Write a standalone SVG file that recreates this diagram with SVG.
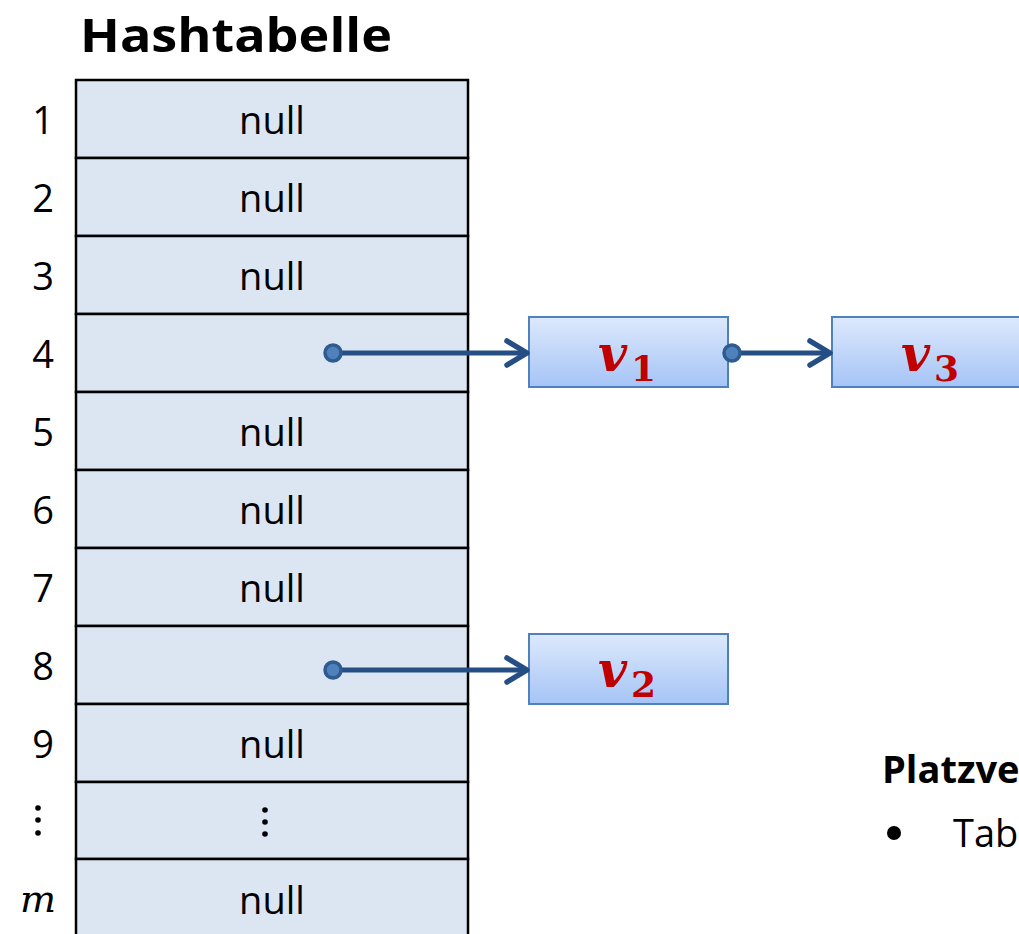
<svg xmlns="http://www.w3.org/2000/svg" width="1019" height="934" viewBox="0 0 1019 934">
<defs>
<linearGradient id="g" x1="0" y1="0" x2="0" y2="1">
<stop offset="0" stop-color="#dde9fc"/>
<stop offset="1" stop-color="#a5c4f6"/>
</linearGradient>
<marker id="ah" viewBox="0 0 30 30" refX="26" refY="15" markerWidth="30" markerHeight="30" markerUnits="userSpaceOnUse" orient="auto">
<path d="M6,3 L26,15 L6,27" fill="none" stroke="#254e84" stroke-width="5.5" stroke-linecap="round" stroke-linejoin="round"/>
</marker>
<marker id="dot" viewBox="0 0 24 24" refX="12" refY="12" markerWidth="24" markerHeight="24" markerUnits="userSpaceOnUse">
<circle cx="12" cy="12" r="8" fill="#4f81bd" stroke="#2f5b8f" stroke-width="3.5"/>
</marker>
</defs>
<style>
.cell{fill:#dce6f2;stroke:#000;stroke-width:2.5}
.num{font-family:"Open Sans","Liberation Sans",sans-serif;font-size:38px;fill:#000;text-anchor:middle}
.null{font-family:"Open Sans","Liberation Sans",sans-serif;font-size:38px;fill:#000;text-anchor:middle}
.box{fill:url(#g);stroke:#4f81bd;stroke-width:2}
.v{font-family:"DejaVu Serif","Liberation Serif",serif;font-style:italic;font-weight:bold;fill:#c00000;font-size:50px}
.sub{font-family:"DejaVu Serif","Liberation Serif",serif;font-style:normal;font-weight:bold;fill:#c00000;font-size:36px}
.conn{fill:none;stroke:#254e84;stroke-width:5}
</style>
<rect width="1019" height="934" fill="#fff"/>
<text x="80" y="52" font-family="Open Sans,Liberation Sans,sans-serif" font-weight="bold" font-size="46" textLength="312" lengthAdjust="spacingAndGlyphs">Hashtabelle</text>
<g id="table">
<rect class="cell" x="76" y="80" width="392" height="78"/>
<rect class="cell" x="76" y="158" width="392" height="78"/>
<rect class="cell" x="76" y="236" width="392" height="78"/>
<rect class="cell" x="76" y="314" width="392" height="78"/>
<rect class="cell" x="76" y="392" width="392" height="78"/>
<rect class="cell" x="76" y="470" width="392" height="78"/>
<rect class="cell" x="76" y="548" width="392" height="78"/>
<rect class="cell" x="76" y="626" width="392" height="78"/>
<rect class="cell" x="76" y="704" width="392" height="78"/>
<rect class="cell" x="76" y="782" width="392" height="77"/>
<rect class="cell" x="76" y="859" width="392" height="90"/>
<text class="null" x="272" y="134">null</text>
<text class="null" x="272" y="212">null</text>
<text class="null" x="272" y="290">null</text>
<text class="null" x="272" y="446">null</text>
<text class="null" x="272" y="524">null</text>
<text class="null" x="272" y="602">null</text>
<text class="null" x="272" y="758">null</text>
<circle cx="265" cy="810" r="2.8" fill="#000"/><circle cx="265" cy="822" r="2.8" fill="#000"/><circle cx="265" cy="834" r="2.8" fill="#000"/>
<text class="null" x="272" y="914">null</text>
</g>
<g id="indices">
<text class="num" x="43" y="134">1</text>
<text class="num" x="43" y="212">2</text>
<text class="num" x="43" y="290">3</text>
<text class="num" x="43" y="368">4</text>
<text class="num" x="43" y="446">5</text>
<text class="num" x="43" y="524">6</text>
<text class="num" x="43" y="602">7</text>
<text class="num" x="43" y="680">8</text>
<text class="num" x="43" y="758">9</text>
<circle cx="38" cy="808" r="2.8" fill="#000"/><circle cx="38" cy="820" r="2.8" fill="#000"/><circle cx="38" cy="833" r="2.8" fill="#000"/>
<text x="38" y="912" font-family="DejaVu Serif,Liberation Serif,serif" font-style="italic" font-size="38" text-anchor="middle">m</text>
</g>
<g id="v1">
<rect class="box" x="529" y="317" width="199" height="70"/>
<text class="v" x="598" y="371">v</text><text class="sub" x="631" y="381">1</text>
</g>
<g id="v3">
<rect class="box" x="832" y="317" width="200" height="70"/>
<text class="v" x="901" y="371">v</text><text class="sub" x="934" y="381">3</text>
</g>
<g id="v2">
<rect class="box" x="529" y="634" width="199" height="70"/>
<text class="v" x="598" y="687">v</text><text class="sub" x="631" y="697">2</text>
</g>
<g id="connectors">
<line class="conn" x1="333" y1="353" x2="527" y2="353" marker-start="url(#dot)" marker-end="url(#ah)"/>
<line class="conn" x1="732" y1="353" x2="830" y2="353" marker-start="url(#dot)" marker-end="url(#ah)"/>
<line class="conn" x1="333" y1="670" x2="527" y2="670" marker-start="url(#dot)" marker-end="url(#ah)"/>
</g>
<g id="notes">
<text x="882" y="783" font-family="Open Sans,Liberation Sans,sans-serif" font-weight="bold" font-size="38">Platzverbrauch</text>
<circle cx="894" cy="833" r="7" fill="#000"/>
<text x="953" y="847" font-family="Open Sans,Liberation Sans,sans-serif" font-size="38">Tabelle</text>
</g>
</svg>
